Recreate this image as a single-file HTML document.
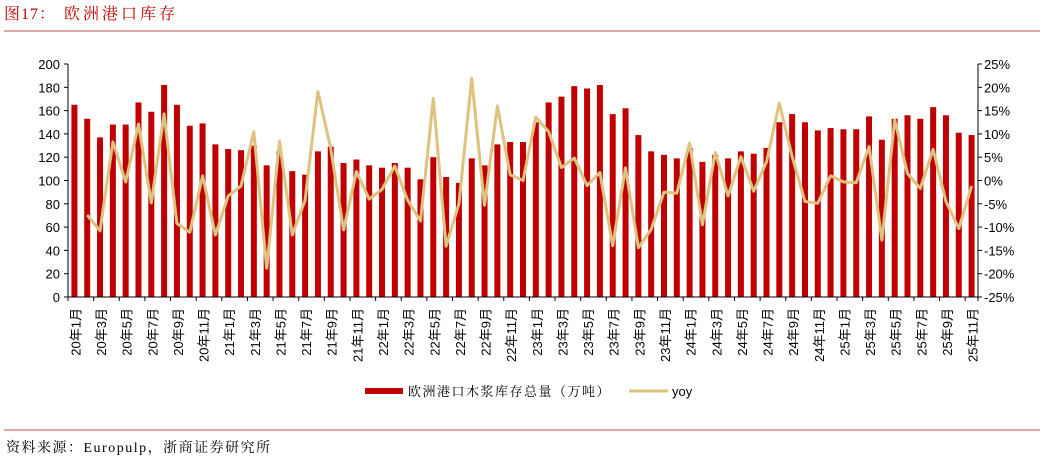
<!DOCTYPE html>
<html><head><meta charset="utf-8"><style>
body{margin:0;background:#fff;width:1043px;height:462px;overflow:hidden}
svg{display:block}
.t{font-family:"Liberation Sans",sans-serif;font-size:13px;fill:#000}
.s{font-family:"Liberation Serif","Noto Serif CJK SC",serif}
</style></head><body>
<svg id="c" width="1043" height="462">
<text x="4" y="19" class="s" font-size="16" fill="#c00000" letter-spacing="1">图17：<tspan x="64" letter-spacing="3">欧洲港口库存</tspan></text>
<line x1="4" y1="31" x2="1040" y2="31" stroke="#c0504d" stroke-width="1"/>
<line x1="4" y1="430" x2="1040" y2="430" stroke="#c0504d" stroke-width="1"/>
<text x="6" y="452" class="s" font-size="14" fill="#000" letter-spacing="1.5">资料来源：Europulp，浙商证券研究所</text>
<g id="plot"></g>
<rect x="365" y="388" width="38" height="6" fill="#c00000"/>
<text x="408" y="396" class="s" font-size="13" letter-spacing="1.5">欧洲港口木浆库存总量（万吨）</text>
<line x1="629" y1="391" x2="668" y2="391" stroke="#dfc27d" stroke-width="3"/>
<text x="672" y="396" class="t">yoy</text>
</svg>
<script>
const inventory=[165,153,137,148,148,167,159,182,165,147,149,131,127,126,130,113,125,108,105,125,129,115,118,113,
111,115,111,101,120,103,98,119,113,131,133,133,150,167,172,181,179,182,157,162,139,125,122,119,
128,116,122,119,125,123,128,150,157,150,143,145,144,144,155,135,153,156,153,163,156,141,139];
const yoy=[null,-7.4,-10.8,8.3,-0.3,12.1,-4.8,14.3,-9.2,-11.1,1.0,-11.7,-3.3,-1.2,10.5,-18.8,8.5,-11.7,-4.2,19.1,6.9,-10.6,1.9,-4.0,
-1.9,3.1,-4.2,-8.7,17.6,-14.1,-5.0,21.9,-5.3,16.0,1.2,0,13.6,10.5,2.8,4.8,-1.1,1.7,-14.0,2.7,-14.4,-10.5,-2.5,-2.7,
8.0,-9.5,6.0,-3.3,5.1,-2.3,4.0,16.6,5.1,-4.5,-4.9,1.0,-0.3,-0.5,7.3,-12.8,13.0,1.5,-1.7,6.7,-4.5,-10.3,-1.2];
const leftTicks=[0,20,40,60,80,100,120,140,160,180,200];
const rightTicks=[-25,-20,-15,-10,-5,0,5,10,15,20,25];
const months=[];
for(let y=20;y<=25;y++)for(let m=1;m<=12;m++)months.push(y+'年'+m+'月');
const categories=months.slice(0,inventory.length);
const NS='http://www.w3.org/2000/svg';
const g=document.getElementById('plot');
const X0=68,X1=978,Y0=297,Y1=64;
const step=(X1-X0)/categories.length;
const xc=i=>X0+step*(i+0.5);
const yL=v=>Y0-(v-0)/(200-0)*(Y0-Y1);
const yR=v=>Y0-(v+25)/50*(Y0-Y1);
function el(t,a){const e=document.createElementNS(NS,t);for(const k in a)e.setAttribute(k,a[k]);g.appendChild(e);return e;}
inventory.forEach((v,i)=>{
 const r=el('rect',{x:xc(i)-3,y:yL(v),width:6,height:Y0-yL(v),fill:'#c00000'});
 
 
});
let d='';
yoy.forEach((v,i)=>{if(v===null)return;d+=(d?'L':'M')+xc(i).toFixed(1)+','+yR(v).toFixed(1);});
const p=el('path',{d:d,fill:'none',stroke:'#dfc27d','stroke-width':3,'stroke-linejoin':'round'});


const la=el('line',{x1:X0,y1:Y1,x2:X0,y2:Y0,stroke:'#000'});


const ra=el('line',{x1:X1,y1:Y1,x2:X1,y2:Y0,stroke:'#000'});


const xa=el('line',{x1:X0,y1:Y0,x2:X1,y2:Y0,stroke:'#000'});


leftTicks.forEach(v=>{
 el('line',{x1:X0-4,y1:yL(v),x2:X0,y2:yL(v),stroke:'#000'});
 const t=el('text',{x:X0-8,y:yL(v)+5,'text-anchor':'end',class:'t'});t.textContent=v;
 
 
});
rightTicks.forEach(v=>{
 el('line',{x1:X1,y1:yR(v),x2:X1+4,y2:yR(v),stroke:'#000'});
 const t=el('text',{x:X1+6,y:yR(v)+5,class:'t'});t.textContent=v+'%';
 
 
});
categories.forEach((c,i)=>{
 if(i%2)return;
 el('line',{x1:X0+step*i,y1:Y0,x2:X0+step*i,y2:Y0+4,stroke:'#000'});
 const x=xc(i)+2,y=308;
 const t=el('text',{x:x,y:y,'text-anchor':'end',class:'t',transform:'rotate(-90 '+x+' '+y+')'});
 t.setAttribute('dy','4');
 t.textContent=c;
 
 
});
el('line',{x1:X1,y1:Y0,x2:X1,y2:Y0+4,stroke:'#000'});
</script>
</body></html>
